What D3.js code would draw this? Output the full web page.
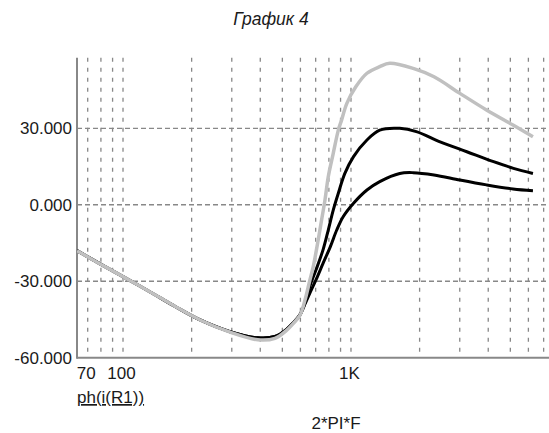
<!DOCTYPE html>
<html>
<head>
<meta charset="utf-8">
<script src="https://cdn.jsdelivr.net/npm/d3@7"></script>
<style>
  body { margin: 0; background: #fff; }
  svg { display: block; }
  text { font-family: "Liberation Sans", Arial, sans-serif; fill: #1a1a1a; }
</style>
</head>
<body>
<svg id="chart" width="549" height="433"></svg>
<script>
// 2*PI*F (rad/s) and phase of i(R1), degrees
const omegaA = [62.83, 79, 100, 131, 170, 218, 295, 390, 464, 520, 558, 597, 628, 660, 683, 718, 743, 769, 795, 836, 880, 910, 959, 1050, 1175, 1337, 1479, 1874, 2313, 3005, 3930, 5137, 6283];
const phaseA = [-18.0, -23.1, -28.2, -34.1, -40.0, -45.2, -50.0, -53.0, -52.4, -49.4, -46.6, -43.4, -37.5, -29.6, -24.3, -13.8, -6.0, 1.9, 11.0, 20.2, 29.3, 33.3, 39.8, 46.3, 51.6, 54.2, 55.5, 53.5, 50.2, 43.7, 37.2, 31.3, 26.7];

const omegaB = [62.83, 79, 100, 131, 170, 218, 295, 390, 464, 520, 558, 597, 628, 667, 702, 754, 795, 836, 880, 940, 1026, 1175, 1337, 1636, 1936, 2459, 3222, 4221, 5160, 6283];
const phaseB = [-18.0, -23.1, -28.2, -34.1, -40.0, -45.2, -49.8, -52.2, -51.7, -49.0, -46.3, -43.2, -38.5, -30.8, -25.6, -17.7, -9.9, -2.1, 4.5, 12.3, 18.9, 25.4, 29.3, 30.0, 28.7, 24.7, 20.8, 16.9, 14.3, 12.3];

const omegaC = [62.83, 79, 100, 131, 170, 218, 295, 390, 464, 520, 558, 597, 628, 660, 702, 754, 812, 866, 924, 1026, 1175, 1337, 1636, 1874, 2313, 3005, 3930, 5137, 6283];
const phaseC = [-18.0, -23.1, -28.2, -34.1, -40.0, -45.2, -49.8, -52.2, -51.7, -49.0, -46.3, -43.2, -39.0, -34.7, -29.5, -23.0, -16.4, -9.9, -4.7, 0.6, 5.8, 9.1, 12.3, 12.6, 11.7, 9.7, 7.8, 6.2, 5.5];

const gridX = [70, 80, 90, 100, 200, 300, 400, 500, 600, 700, 800, 900, 1000, 2000, 3000, 4000, 5000, 6000, 7000];
const tickX = [70, 100, 1000];
const tickXLabels = ["70", "100", "1K"];
const tickY = [-60, -30, 0, 30];

const pLeft = 77, pRight = 547.8, pTop = 57.7, pBottom = 357.7;

const x = d3.scaleLog().domain([62.83, 7300]).range([pLeft, pRight]);
const y = d3.scaleLinear().domain([-60, 57.7]).range([pBottom, pTop]);

const svg = d3.select("#chart");

svg.append("text")
  .attr("x", 271).attr("y", 25)
  .attr("text-anchor", "middle")
  .style("font-size", "17.5px")
  .style("font-style", "italic")
  .text("График 4");

svg.append("clipPath").attr("id", "plot")
  .append("rect")
  .attr("x", pLeft).attr("y", pTop)
  .attr("width", 549 - pLeft).attr("height", pBottom - pTop);

// grid
svg.append("g").selectAll("line")
  .data(gridX)
  .enter().append("line")
  .attr("x1", d => x(d)).attr("x2", d => x(d))
  .attr("y1", pTop).attr("y2", pBottom)
  .attr("stroke", "#888").attr("stroke-width", 1.3)
  .attr("stroke-dasharray", "4,6");

svg.append("g").selectAll("line")
  .data(tickY.filter(d => d > -60))
  .enter().append("line")
  .attr("x1", pLeft).attr("x2", 549)
  .attr("y1", d => y(d)).attr("y2", d => y(d))
  .attr("stroke", "#888").attr("stroke-width", 1.3)
  .attr("stroke-dasharray", "5,3");

// axes
svg.append("line")
  .attr("x1", pLeft).attr("x2", pLeft).attr("y1", pTop).attr("y2", pBottom + 1)
  .attr("stroke", "#888").attr("stroke-width", 2);
svg.append("line")
  .attr("x1", pLeft).attr("x2", 549).attr("y1", pBottom).attr("y2", pBottom)
  .attr("stroke", "#888").attr("stroke-width", 2);

svg.append("g").selectAll("text")
  .data(tickY)
  .enter().append("text")
  .attr("x", 72).attr("y", d => y(d) + 6)
  .attr("text-anchor", "end")
  .style("font-size", "17px")
  .text(d => d.toFixed(3));

svg.append("g").selectAll("text")
  .data(tickX)
  .enter().append("text")
  .attr("x", d => x(d) - 1.5).attr("y", 379)
  .attr("text-anchor", "middle")
  .style("font-size", "17px")
  .text((d, i) => tickXLabels[i]);

svg.append("text")
  .attr("x", pLeft).attr("y", 403)
  .style("font-size", "17px")
  .style("text-decoration", "underline")
  .text("ph(i(R1))");

svg.append("text")
  .attr("x", 336).attr("y", 429)
  .attr("text-anchor", "middle")
  .style("font-size", "17px")
  .text("2*PI*F");

// curves
const line = d3.line()
  .x(d => x(d[0]))
  .y(d => y(d[1]))
  .curve(d3.curveCatmullRom.alpha(0.5));

const curves = svg.append("g").attr("clip-path", "url(#plot)");

[[omegaC, phaseC], [omegaB, phaseB]].forEach(s => {
  curves.append("path")
    .attr("d", line(d3.zip(s[0], s[1])))
    .attr("fill", "none")
    .attr("stroke", "#000")
    .attr("stroke-width", 3);
});

curves.append("path")
  .attr("d", line(d3.zip(omegaA, phaseA)))
  .attr("fill", "none")
  .attr("stroke", "#c0c0c0")
  .attr("stroke-width", 3.5);
</script>
</body>
</html>
